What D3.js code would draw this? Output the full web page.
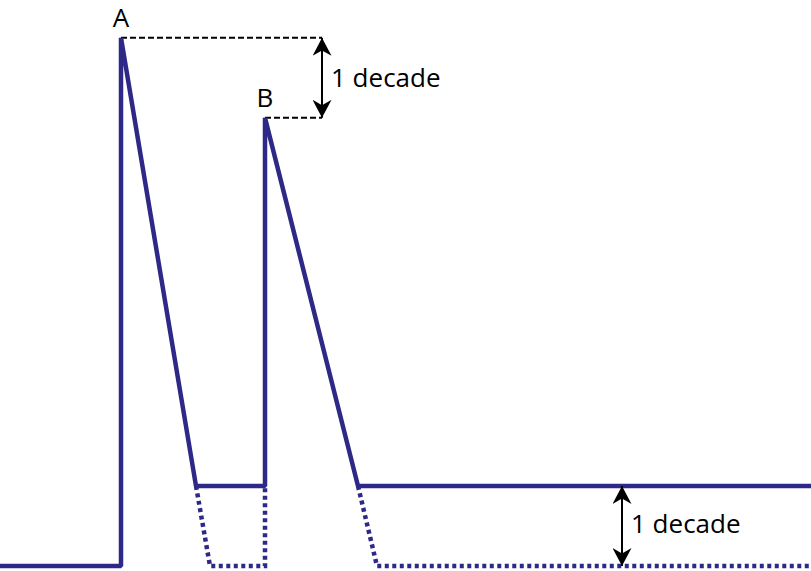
<!DOCTYPE html>
<html><head><meta charset="utf-8">
<script src="https://cdn.jsdelivr.net/npm/d3@7"></script>
<style>html,body{margin:0;padding:0;background:#fff;overflow:hidden}</style>
</head><body>
<svg id="c" width="811" height="571"></svg>
<script>
// Time (arbitrary units) and concentration (log scale) of the main trace
const solidTime = [0, 12.1, 12.1, 19.6, 26.5, 26.5, 35.8, 81.1];
const solidConc = [1, 1, 4e6, 10, 10, 4e5, 10, 10];
// Dotted extension (one decade lower plateau)
const dotATime = [19.6, 21.0, 26.5, 26.5];
const dotAConc = [10, 1, 1, 10];
const dotBTime = [35.8, 37.7, 81.1];
const dotBConc = [10, 1, 1];
// Annotation points
const peakLabels = ["A", "B"];
const peakTime = [12.1, 26.5];
const peakConc = [4e6, 4e5];
const decadeArrowTime = [32.2, 62.2];
const decadeText = "1 decade";

const color = "#2e2886";
const svg = d3.select("#c");
const x = d3.scaleLinear().domain([0, 81.1]).range([0, 811]);
const y = d3.scaleLog().domain([1, 1e7]).range([566, 6]);
const line = d3.line().x(d => x(d[0])).y(d => y(d[1]));
const zip = (a, b) => a.map((v, i) => [v, b[i]]);

// arrow marker
const defs = svg.append("defs");
defs.append("marker").attr("id", "ah").attr("viewBox", "0 0 10 10")
  .attr("refX", 10).attr("refY", 5).attr("markerWidth", 9).attr("markerHeight", 9.5)
  .attr("markerUnits", "strokeWidth").attr("orient", "auto-start-reverse")
  .attr("preserveAspectRatio", "none")
  .append("path").attr("d", "M0,0 L10,5 L0,10 L3,5 Z").attr("fill", "#000");

// dashed reference lines from peaks
svg.append("line").attr("x1", x(peakTime[0])).attr("x2", x(decadeArrowTime[0]))
  .attr("y1", y(peakConc[0])).attr("y2", y(peakConc[0]))
  .attr("stroke", "#000").attr("stroke-width", 2).attr("stroke-dasharray", "6,3");
svg.append("line").attr("x1", x(peakTime[1])).attr("x2", x(decadeArrowTime[0]))
  .attr("y1", y(peakConc[1])).attr("y2", y(peakConc[1]))
  .attr("stroke", "#000").attr("stroke-width", 2).attr("stroke-dasharray", "6,3");

// dotted extensions
[zip(dotATime, dotAConc), zip(dotBTime, dotBConc)].forEach(d => {
  svg.append("path").attr("d", line(d)).attr("fill", "none")
    .attr("stroke", color).attr("stroke-width", 4.5).attr("stroke-dasharray", "4,3.5");
});

// main trace
svg.append("path").attr("d", line(zip(solidTime, solidConc))).attr("fill", "none")
  .attr("stroke", color).attr("stroke-width", 4.5).attr("stroke-linejoin", "bevel");

// decade arrows
function arrow(xv, c1, c2) {
  svg.append("line").attr("x1", x(xv)).attr("x2", x(xv))
    .attr("y1", y(c1)).attr("y2", y(c2))
    .attr("stroke", "#000").attr("stroke-width", 2)
    .attr("marker-start", "url(#ah)").attr("marker-end", "url(#ah)");
}
arrow(decadeArrowTime[0], peakConc[0], peakConc[1]);
arrow(decadeArrowTime[1], 10, 1);

const font = "'Open Sans', sans-serif";
svg.append("text").attr("x", x(decadeArrowTime[0]) + 9).attr("y", (y(peakConc[0]) + y(peakConc[1])) / 2 + 9)
  .attr("font-family", font).attr("font-size", 26).text(decadeText);
svg.append("text").attr("x", x(decadeArrowTime[1]) + 9).attr("y", (y(10) + y(1)) / 2 + 7)
  .attr("font-family", font).attr("font-size", 26).text(decadeText);

// peak labels
peakLabels.forEach((t, i) => {
  svg.append("text").attr("x", x(peakTime[i])).attr("y", y(peakConc[i]) - 11)
    .attr("text-anchor", "middle").attr("font-family", font).attr("font-size", 26).text(t);
});
</script>
</body></html>
